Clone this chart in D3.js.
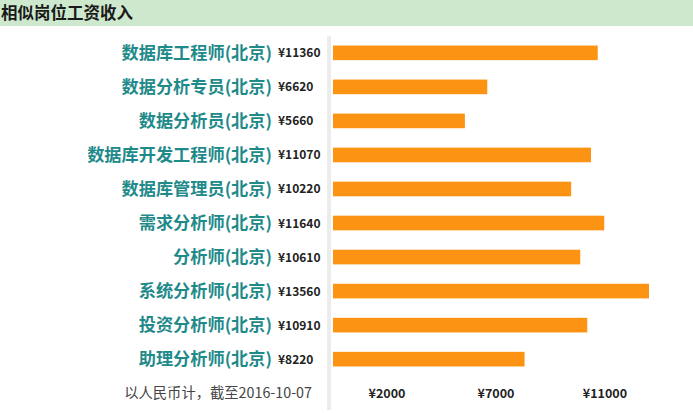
<!DOCTYPE html>
<html><head><meta charset="utf-8">
<script src="https://cdn.jsdelivr.net/npm/d3@7"></script>
<style>body{margin:0;background:#fff;}svg{display:block;}</style>
</head><body><svg id="c" width="693" height="413"></svg>
<script>
const title = "相似岗位工资收入";
const categories = ["数据库工程师(北京)","数据分析专员(北京)","数据分析员(北京)","数据库开发工程师(北京)","数据库管理员(北京)","需求分析师(北京)","分析师(北京)","系统分析师(北京)","投资分析师(北京)","助理分析师(北京)"];
const salaries = [11360,6620,5660,11070,10220,11640,10610,13560,10910,8220];
const tickLabels = ["¥2000","¥7000","¥11000"];
const footnote = "以人民币计，截至2016-10-07";

const svg = d3.select("#c");
const font = "'Noto Sans CJK SC','Microsoft YaHei',sans-serif";

svg.append("rect").attr("x",0).attr("y",0).attr("width",693).attr("height",26).attr("fill","#cde8cc");
svg.append("text").attr("x",1).attr("y",19).text(title)
  .attr("font-family",font).attr("font-weight","bold").attr("font-size",16.5).attr("fill","#1a1a1a");

const x = d3.scaleLinear().domain([0, d3.max(salaries)]).range([333, 649]);
const y = d3.scaleBand().domain(categories).range([36, 376]).paddingInner(0.57).paddingOuter(0.28);

svg.append("rect").attr("x",327).attr("y",36).attr("width",4).attr("height",374).attr("fill","#ececec");

svg.selectAll("rect.bar").data(categories).join("rect").attr("class","bar")
  .attr("x", x(0)).attr("y", d=>y(d)).attr("height", y.bandwidth())
  .attr("width", (d,i)=>x(salaries[i])-x(0)).attr("fill","#fc9312");

const cy = d => y(d)+y.bandwidth()/2;
svg.selectAll("text.cat").data(categories).join("text").attr("class","cat")
  .attr("x",272).attr("y",d=>cy(d)+6).attr("text-anchor","end").text(d=>d)
  .attr("font-family",font).attr("font-weight","bold").attr("font-size",17.2).attr("fill","#1f8a8a");

svg.selectAll("text.val").data(categories).join("text").attr("class","val")
  .attr("x",278).attr("y",d=>cy(d)+4.5).text((d,i)=>"¥"+salaries[i])
  .attr("font-family",font).attr("font-weight","bold").attr("font-size",12).attr("fill","#222");

const t = d3.scalePoint().domain(tickLabels).range([387, 605]);
svg.selectAll("text.tick").data(tickLabels).join("text").attr("class","tick")
  .attr("x",d=>t(d)).attr("y",398).attr("text-anchor","middle").text(d=>d)
  .attr("font-family",font).attr("font-weight","bold").attr("font-size",12.5).attr("fill","#222");

svg.append("text").attr("x",312).attr("y",398).attr("text-anchor","end").text(footnote)
  .attr("font-family",font).attr("font-size",14.3).attr("fill","#444");
</script></body></html>
